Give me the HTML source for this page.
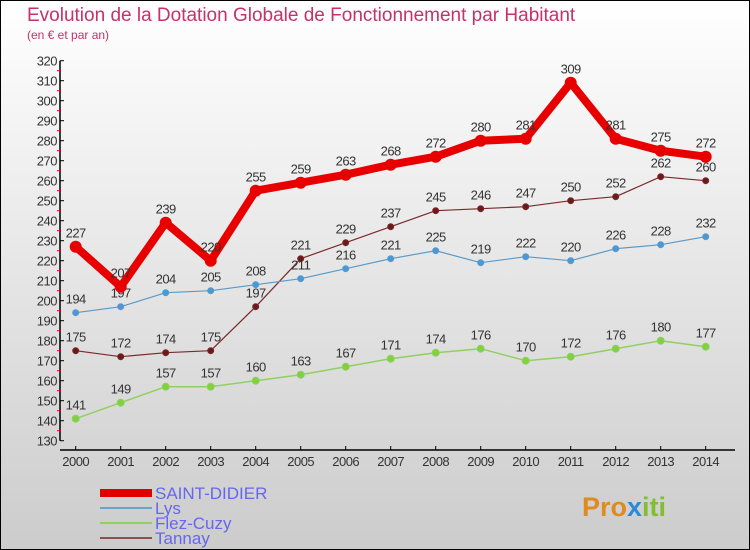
<!DOCTYPE html>
<html><head><meta charset="utf-8"><style>
body{margin:0}
#c{width:750px;height:550px;position:relative;background:linear-gradient(#fff,#ccc);font-family:"Liberation Sans",sans-serif;box-sizing:border-box;border:1px solid #000;overflow:hidden}
</style></head><body>
<div id="c">
<svg id="s" width="750" height="550" style="position:absolute;left:-1px;top:-1px">
<text x="27" y="21" font-size="19" fill="#c8306a">Evolution de la Dotation Globale de Fonctionnement par Habitant</text>
<text x="27" y="39" font-size="12" fill="#c8306a">(en € et par an)</text>
<g id="ax"></g><g id="series"></g>
<g>
<rect x="100" y="489" width="52" height="8" fill="#e00000"/>
<text x="155" y="499" font-size="17" fill="#6666ee">SAINT-DIDIER</text>
<rect x="100" y="507" width="52" height="2" fill="#6aa4cc"/>
<text x="155" y="514" font-size="17" fill="#6666ee">Lys</text>
<rect x="100" y="522" width="52" height="2" fill="#90d060"/>
<text x="155" y="529" font-size="17" fill="#6666ee">Flez-Cuzy</text>
<rect x="100" y="537" width="52" height="2" fill="#8a5050"/>
<text x="155" y="544" font-size="17" fill="#6666ee">Tannay</text>
</g>
<g><text x="582" y="516" font-size="27" font-weight="bold" fill="#e08a20">Pro<tspan fill="#2a8ad8">x</tspan><tspan fill="#80c030">iti</tspan></text></g>
</svg>
</div>
<script>
const years=[2000,2001,2002,2003,2004,2005,2006,2007,2008,2009,2010,2011,2012,2013,2014];
const saintDidier=[227,207,239,220,255,259,263,268,272,280,281,309,281,275,272];
const lys=[194,197,204,205,208,211,216,221,225,219,222,220,226,228,232];
const flezCuzy=[141,149,157,157,160,163,167,171,174,176,170,172,176,180,177];
const tannay=[175,172,174,175,197,221,229,237,245,246,247,250,252,262,260];
const yTicks=[130,140,150,160,170,180,190,200,210,220,230,240,250,260,270,280,290,300,310,320];
const NS="http://www.w3.org/2000/svg";
const X=i=>75.7+i*45, Y=v=>60.7+(320-v)*2;
function mk(t,a,p){const e=document.createElementNS(NS,t);for(const k in a)e.setAttribute(k,a[k]);p.appendChild(e);return e;}
const ax=document.getElementById('ax');
let e=mk('line',{x1:60,y1:Y(320),x2:60,y2:Y(130),stroke:'#000','stroke-width':1.5},ax);


e=mk('line',{x1:60,y1:450,x2:735,y2:450,stroke:'#000','stroke-width':1.5},ax);


yTicks.forEach(v=>{
 let t=mk('line',{x1:60,y1:Y(v),x2:64,y2:Y(v),stroke:'#000'},ax);
 
 
 if(v<320){let m=mk('line',{x1:57,y1:Y(v+5),x2:61,y2:Y(v+5),stroke:'#e00'},ax);
 
 }
 let l=mk('text',{x:57,y:Y(v)+5,'text-anchor':'end','font-size':13,fill:'#333','letter-spacing':'-0.5'},ax);
 l.textContent=v;
 
 
});
years.forEach((yr,i)=>{
 let t=mk('line',{x1:X(i),y1:446,x2:X(i),y2:450,stroke:'#000'},ax);
 
 
 let l=mk('text',{x:X(i),y:466,'text-anchor':'middle','font-size':13,fill:'#333','letter-spacing':'-0.5'},ax);
 l.textContent=yr;
 
 
});
const sg=document.getElementById('series');
function series(name,data,col,w,r,fill){
 const g=mk('g',{},sg);
 
 
 const p=mk('polyline',{points:data.map((v,i)=>X(i)+','+Y(v)).join(' '),fill:'none',stroke:col,'stroke-width':w,'stroke-linejoin':'round'},g);
 
 
 data.forEach((v,i)=>{
  const c=mk('circle',{cx:X(i),cy:Y(v),r:r,fill:fill,stroke:col,'stroke-width':w>3?0:1},g);
  
  
  const t=mk('text',{x:X(i),y:Y(v)-9,'text-anchor':'middle','font-size':13,fill:'#333','letter-spacing':'-0.5'},g);
  t.textContent=v;
  
  
 });
}
series('tannay',tannay,'#7a2a2a',1.2,3,'#6b1a1a');
series('flez-cuzy',flezCuzy,'#90d060',1.5,3.5,'#80d040');
series('lys',lys,'#5a9ac8',1.2,3,'#4a98d8');
series('saint-didier',saintDidier,'#e80000',8,6,'#e80000');
</script>
</body></html>
